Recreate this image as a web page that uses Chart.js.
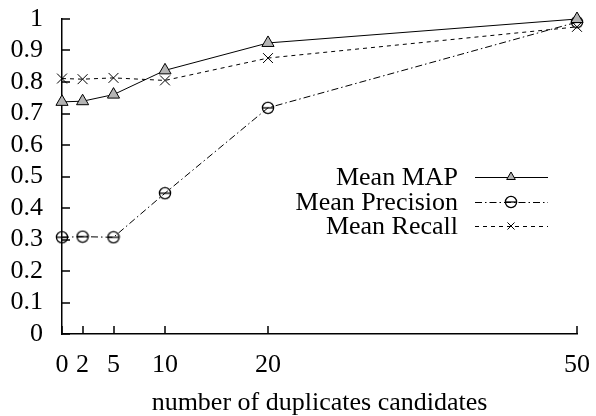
<!DOCTYPE html>
<html>
<head>
<meta charset="utf-8">
<script src="https://cdn.jsdelivr.net/npm/chart.js@4/dist/chart.umd.min.js"></script>
<style>
  html, body { margin: 0; padding: 0; background: #fff; }
  #wrap { width: 596px; height: 416px; }
</style>
</head>
<body>
<div id="wrap"><canvas id="c" width="596" height="416"></canvas></div>
<script>
// number of duplicate candidates (x) and the three mean scores
const candidates = [0, 2, 5, 10, 20, 50];
const xTickValues = [0, 2, 5, 10, 20, 50];
const meanMAP = [0.737, 0.739, 0.760, 0.837, 0.924, 1.0];
const meanPrecision = [0.307, 0.309, 0.307, 0.447, 0.718, 0.99];
const meanRecall = [0.811, 0.809, 0.813, 0.805, 0.876, 0.975];
const seriesNames = ['Mean MAP', 'Mean Precision', 'Mean Recall'];
const axisTitle = 'number of duplicates candidates';

const FONT = 'Liberation Serif';
const FSIZE = 26;

// circle with a horizontal bar through it
function barCircle() {
  const cv = document.createElement('canvas');
  cv.width = 14; cv.height = 14;
  const g = cv.getContext('2d');
  g.strokeStyle = '#000';
  g.lineWidth = 1.3;
  g.beginPath(); g.arc(7, 7, 5.6, 0, Math.PI * 2); g.stroke();
  g.beginPath(); g.moveTo(1.5, 7); g.lineTo(12.5, 7); g.stroke();
  return cv;
}

const toPoints = ys => candidates.map((x, i) => ({ x, y: ys[i] }));

const datasets = [
  {
    label: seriesNames[0], data: toPoints(meanMAP),
    borderColor: '#000', borderWidth: 1, borderDash: [],
    pointStyle: 'triangle', pointRadius: 7, pointBackgroundColor: '#b4b4b4',
    pointBorderColor: '#000', pointBorderWidth: 1
  },
  {
    label: seriesNames[1], data: toPoints(meanPrecision),
    borderColor: '#000', borderWidth: 1, borderDash: [7, 3, 1.5, 3],
    pointStyle: barCircle(), pointRadius: 6, pointBackgroundColor: '#fff',
    pointBorderColor: '#000', pointBorderWidth: 1
  },
  {
    label: seriesNames[2], data: toPoints(meanRecall),
    borderColor: '#000', borderWidth: 1, borderDash: [4, 4],
    pointStyle: 'crossRot', pointRadius: 7, pointBackgroundColor: '#fff',
    pointBorderColor: '#000', pointBorderWidth: 1
  }
].map(d => Object.assign(d, { fill: false, tension: 0, clip: false }));

// short tick marks pointing into the plot area
const inwardTicks = {
  id: 'inwardTicks',
  beforeDatasetsDraw(chart) {
    const { ctx, chartArea, scales } = chart;
    ctx.save();
    ctx.strokeStyle = '#000';
    ctx.lineWidth = 1.5;
    ctx.beginPath();
    scales.x.ticks.forEach(t => {
      const px = Math.round(scales.x.getPixelForValue(t.value));
      ctx.moveTo(px, chartArea.bottom);
      ctx.lineTo(px, chartArea.bottom - 8);
    });
    scales.y.ticks.forEach(t => {
      const py = Math.round(scales.y.getPixelForValue(t.value));
      ctx.moveTo(chartArea.left, py);
      ctx.lineTo(chartArea.left + 8, py);
    });
    ctx.stroke();
    ctx.restore();
  }
};

// key: right-aligned names, then a line sample with the marker
const keyBox = {
  id: 'keyBox',
  afterDraw(chart) {
    const { ctx } = chart;
    const textRight = 458, lineL = 475, lineR = 548, mark = 511;
    const rows = [177, 202, 226];
    ctx.save();
    ctx.font = FSIZE + 'px "' + FONT + '"';
    ctx.textAlign = 'right';
    ctx.textBaseline = 'middle';
    chart.data.datasets.forEach((ds, i) => {
      const y = rows[i];
      ctx.fillStyle = '#000';
      ctx.fillText(ds.label, textRight, y + 1);
      ctx.strokeStyle = '#000';
      ctx.lineWidth = 1;
      ctx.setLineDash(ds.borderDash);
      ctx.beginPath();
      ctx.moveTo(lineL, y + 0.5);
      ctx.lineTo(lineR, y + 0.5);
      ctx.stroke();
      ctx.setLineDash([]);
      ctx.fillStyle = ds.pointBackgroundColor;
      ctx.strokeStyle = '#000';
      Chart.helpers.drawPoint(ctx, {
        pointStyle: ds.pointStyle, radius: 5, borderWidth: 1, rotation: 0
      }, mark, y);
    });
    ctx.restore();
  }
};

const tickFont = { family: FONT, size: FSIZE };

new Chart(document.getElementById('c'), {
  type: 'line',
  data: { datasets },
  plugins: [inwardTicks, keyBox],
  options: {
    responsive: false,
    animation: false,
    devicePixelRatio: 1,
    layout: { padding: { top: 19, right: 19, left: 0, bottom: 0 } },
    plugins: { legend: { display: false }, tooltip: { enabled: false } },
    scales: {
      x: {
        type: 'linear', min: 0, max: 50,
        afterBuildTicks: s => { s.ticks = xTickValues.map(v => ({ value: v })); },
        afterFit: s => {
          s.height = 82;
          s.paddingLeft = 0; s.paddingRight = 0;
        },
        grid: { display: true, drawOnChartArea: false, drawTicks: false },
        border: { display: true, color: '#000', width: 1.5 },
        ticks: {
          color: '#000', font: tickFont, padding: 16,
          autoSkip: false, maxRotation: 0, callback: v => String(v)
        },
        title: {
          display: true, text: axisTitle, color: '#000',
          font: { family: FONT, size: FSIZE, lineHeight: 1 }, padding: 0
        }
      },
      y: {
        type: 'linear', min: 0, max: 1,
        afterFit: s => {
          s.width = 62;
          s.paddingTop = 0; s.paddingBottom = 0;
        },
        grid: { display: true, drawOnChartArea: false, drawTicks: false },
        border: { display: true, color: '#000', width: 1.5 },
        ticks: {
          color: '#000', font: tickFont, padding: 19, stepSize: 0.1,
          autoSkip: false,
          callback: v => String(Math.round(v * 10) / 10)
        }
      }
    }
  }
});
</script>
</body>
</html>
